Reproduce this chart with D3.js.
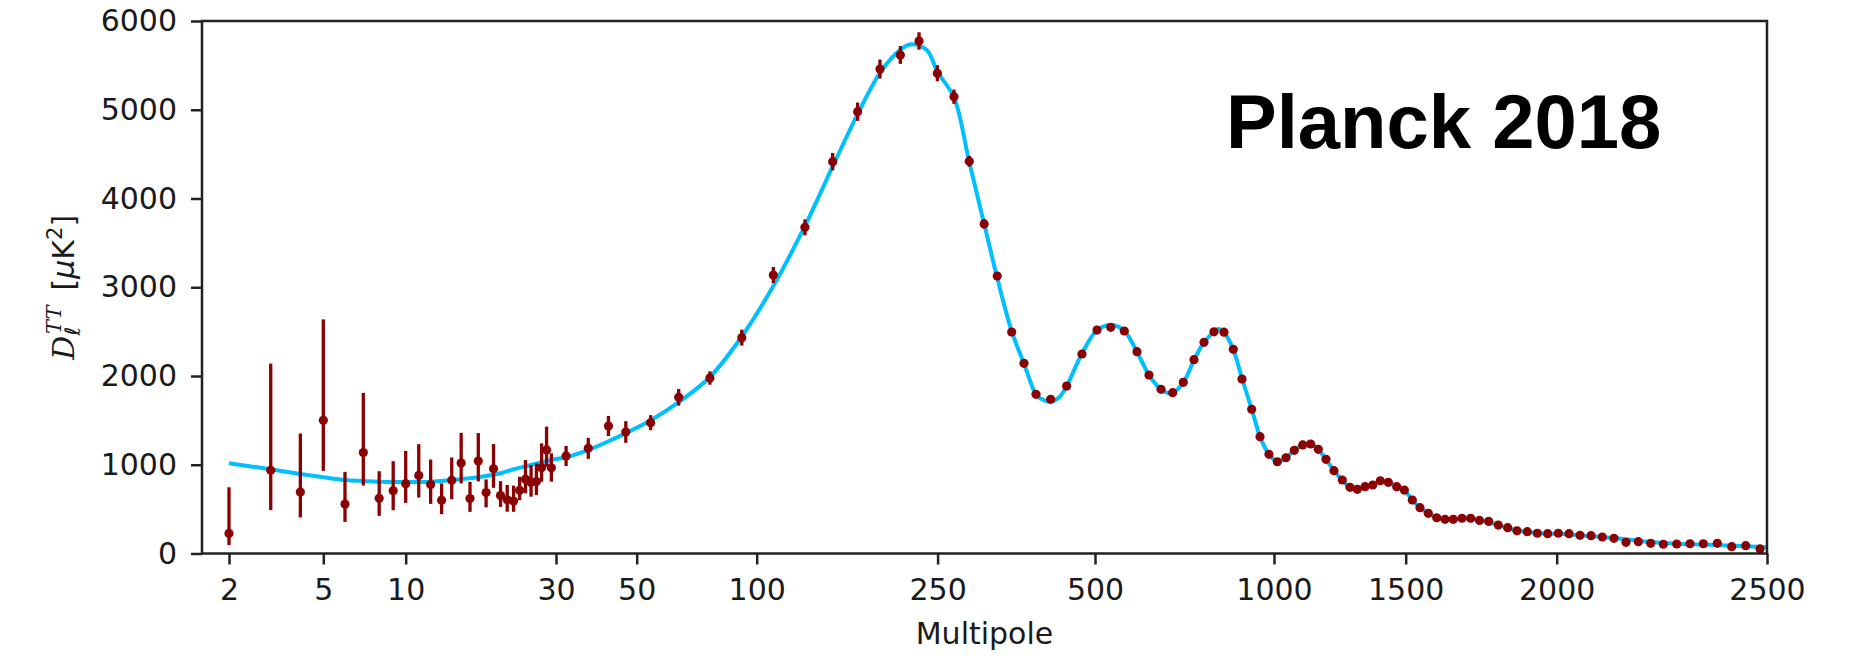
<!DOCTYPE html>
<meta charset="utf-8">
<style>
  body { margin: 0; background: #fff; }
  .tick text { font-family: "DejaVu Sans", sans-serif; font-size: 30px; fill: #1a1a1a; }
  .tick line { stroke: #222; stroke-width: 2.5; }
  .axisLabel { font-family: "DejaVu Sans", sans-serif; font-size: 30px; fill: #1a1a1a; }
  .title { font-family: "Liberation Sans", Arial, sans-serif; font-size: 76px; font-weight: bold; fill: #000; }
</style>
<body>
<script src="https://d3js.org/d3.v7.min.js"></script>
<script>

  // ---- data ----
  // unbinned low multipoles (l = 2..29), value plus lower/upper error bounds
  var lowL = [2, 3, 4, 5, 6, 7, 8, 9, 10, 11, 12, 13, 14, 15, 16, 17, 18, 19, 20, 21, 22, 23, 24, 25, 26, 27, 28, 29];
  var lowD = [226, 937, 693, 1501, 558, 1138, 622, 707, 787, 880, 777, 601, 824, 1019, 619, 1042, 687, 954, 653, 605, 591, 712, 837, 801, 810, 966, 1167, 966];
  var lowLo = [94, 490, 406, 931, 356, 766, 424, 488, 570, 631, 559, 443, 612, 790, 469, 812, 520, 740, 525, 471, 470, 600, 678, 640, 659, 809, 978, 809];
  var lowHi = [746, 2140, 1352, 2638, 920, 1810, 927, 1040, 1156, 1232, 1059, 789, 1082, 1360, 807, 1357, 835, 1233, 815, 772, 765, 865, 1054, 997, 1016, 1241, 1429, 1129];

  // binned high multipoles
  var binL = [32.5, 38, 43, 47.3, 55.8, 67.5, 80.5, 93.8, 113.8, 140,
    163, 183.7, 202.2, 219.1, 234.6, 249.8, 276, 300.3, 324, 344.7,
    367.7, 387.2, 406.3, 429.6, 455, 479.3, 505.6, 543.9, 581.8, 617.3,
    650.8, 684.4, 717, 746.6, 776.5, 804.5, 832.4, 860.3, 886.3, 910.6,
    937.7, 960.9, 986, 1012.5, 1045.6, 1077.1, 1109, 1139.3, 1168.2, 1197.4,
    1227.8, 1259.3, 1288.5, 1316.3, 1345.5, 1374.8, 1403.6, 1434, 1465.9, 1494.8,
    1521.9, 1547.4, 1574.8, 1602.7, 1630.1, 1657.6, 1686.4, 1715.2, 1744.4, 1774.8,
    1806.6, 1837.7, 1868.5, 1902.6, 1935.8, 1970.2, 2003.8, 2029.2, 2055.4, 2081.6,
    2108.4, 2136.2, 2164.8, 2194, 2223.5, 2253.5, 2285.3, 2316.9, 2348.6, 2381.8,
    2416.1, 2449.4, 2483.4];
  var binD = [1099, 1185, 1437, 1369, 1474, 1760, 1977, 2432, 3138, 3675,
    4415, 4978, 5459, 5617, 5775, 5411, 5147, 4420, 3713, 3127,
    2496, 2143, 1794, 1738, 1887, 2248, 2518, 2549, 2507, 2274,
    2011, 1850, 1812, 1929, 2184, 2380, 2498, 2494, 2301, 1966,
    1625, 1316, 1118, 1034, 1079, 1163, 1223, 1234, 1174, 1061,
    933, 828, 746, 723, 753, 772, 820, 802, 753, 715,
    603, 516, 453, 403, 385, 385, 397, 397, 373, 362,
    320, 291, 256, 246, 228, 223, 228, 223, 205, 201,
    186, 171, 126, 133, 115, 104, 107, 110, 110, 115,
    77, 88, 51];
  var binErr = [113, 118, 113, 122, 85, 94, 75, 90, 90, 90,
    98, 103, 107, 100, 98, 90, 80, 60, 50, 45,
    40, 40, 35, 35, 35, 35, 35, 35, 35, 35,
    30, 30, 30, 30, 30, 30, 30, 30, 30, 30,
    30, 30, 30, 30, 30, 30, 30, 30, 30, 30,
    30, 30, 30, 30, 30, 30, 30, 30, 30, 30,
    30, 30, 30, 30, 30, 30, 30, 30, 30, 30,
    30, 30, 30, 30, 30, 30, 30, 30, 30, 30,
    30, 30, 30, 30, 30, 30, 30, 30, 30, 30,
    30, 30, 30];

  // best-fit model curve
  var modelL = [2, 3, 4, 5, 6, 7, 8, 10, 12, 14, 16, 18, 20, 22, 25, 29, 32.5, 37.9, 42.9, 55.9,
    67.5, 80.3, 93.5, 113.9, 140.2, 163.1, 183.5, 202.5, 219, 228, 241, 250, 276, 300, 324, 344, 368, 387, 406, 413, 429,
    444, 455, 479, 506, 547, 582, 617, 651, 684, 700, 717, 747, 777, 805, 845, 860, 886, 911, 938, 961,
    986, 1015, 1046, 1077, 1109, 1139, 1168, 1197, 1228, 1259, 1288, 1316, 1345, 1375, 1404, 1434, 1466, 1495, 1522, 1547,
    1575, 1603, 1630, 1658, 1686, 1715, 1744, 1775, 1807, 1838, 1869, 1903, 1936, 1970, 2004, 2055, 2108, 2165, 2224, 2285,
    2349, 2416, 2500];
  var modelD = [1016, 949, 896, 859, 828, 817, 809, 806, 809, 828, 847, 873, 904, 949, 997, 1054, 1084, 1165, 1262, 1502,
    1705, 1983, 2434, 3017, 3696, 4364, 4946, 5421, 5675, 5737, 5673, 5425, 5140, 4420, 3713, 3127, 2496, 2143, 1794, 1749, 1711,
    1767, 1887, 2248, 2518, 2575, 2507, 2274, 2011, 1850, 1812, 1812, 1929, 2184, 2380, 2530, 2494, 2301, 1966, 1625, 1316,
    1118, 1030, 1079, 1163, 1223, 1240, 1174, 1061, 933, 828, 746, 723, 750, 775, 810, 802, 753, 712, 603, 516,
    453, 403, 385, 385, 395, 395, 373, 355, 320, 290, 258, 244, 230, 222, 222, 205, 186, 160, 130, 110,
    100, 88, 70];

  // axis ticks
  var xTicks = [2, 5, 10, 30, 50, 100, 250, 500, 1000, 1500, 2000, 2500];
  var yTicks = [0, 1000, 2000, 3000, 4000, 5000, 6000];

  // where each x tick sits along the axis (fraction of the width) - the axis is not uniform
  var xBreaks = [0.01725, 0.07751, 0.13016, 0.2262, 0.27776, 0.35444, 0.47003, 0.57061, 0.68498, 0.76914, 0.86562, 1.0];

  // ---- layout ----
  var margin = { top: 21, right: 102, bottom: 107.5, left: 202 },
    width = 1869 - margin.left - margin.right,
    height = 661 - margin.top - margin.bottom;

  var svg = d3.select("body").append("svg")
    .attr("width", 1869)
    .attr("height", 661);

  svg.append("rect").attr("width", 1869).attr("height", 661).attr("fill", "#fff");

  var g = svg.append("g")
    .attr("transform", "translate(" + margin.left + "," + margin.top + ")");

  // log below l=30, linear above; the piecewise scale does the rest
  function tf(l) { return l <= 30 ? Math.log(l) : Math.log(30) + (l - 30) / 30; }

  var xs = d3.scaleLinear()
    .domain(xTicks.map(tf))
    .range(xBreaks.map(function (f) { return f * width; }));
  function x(l) { return xs(tf(l)); }

  var y = d3.scaleLinear().domain([0, 6000]).range([height, 0]);

  // ---- axes ----
  var xAxis = g.append("g")
    .attr("transform", "translate(0," + height + ")")
    .call(d3.axisBottom(xs)
      .tickValues(xTicks.map(tf))
      .tickFormat(function (v, i) { return xTicks[i]; })
      .tickSize(11).tickPadding(14));
  xAxis.select(".domain").remove();

  var yAxis = g.append("g")
    .call(d3.axisLeft(y).tickValues(yTicks).tickFormat(d3.format("d")).tickSize(11).tickPadding(14));
  yAxis.select(".domain").remove();

  // ---- model curve ----
  var model = modelL.map(function (l, i) { return { l: l, d: modelD[i] }; });
  var line = d3.line()
    .x(function (d) { return x(d.l); })
    .y(function (d) { return y(d.d); })
    .curve(d3.curveCatmullRom.alpha(0.5));

  g.append("path")
    .datum(model)
    .attr("d", line)
    .attr("fill", "none")
    .attr("stroke", "#00bfff")
    .attr("stroke-width", 4);

  // ---- data points with error bars ----
  var pts = lowL.map(function (l, i) { return { l: l, d: lowD[i], lo: lowLo[i], hi: lowHi[i] }; })
    .concat(binL.map(function (l, i) { return { l: l, d: binD[i], lo: binD[i] - binErr[i], hi: binD[i] + binErr[i] }; }));

  g.selectAll(".err")
    .data(pts)
    .enter().append("line")
    .attr("class", "err")
    .attr("x1", function (d) { return x(d.l); })
    .attr("x2", function (d) { return x(d.l); })
    .attr("y1", function (d) { return y(d.lo); })
    .attr("y2", function (d) { return y(d.hi); })
    .attr("stroke", "#8b0000")
    .attr("stroke-width", 3.3);

  g.selectAll(".pt")
    .data(pts)
    .enter().append("circle")
    .attr("class", "pt")
    .attr("cx", function (d) { return x(d.l); })
    .attr("cy", function (d) { return y(d.d); })
    .attr("r", 4.6)
    .attr("fill", "#8b0000");

  // frame
  g.append("rect")
    .attr("width", width)
    .attr("height", height)
    .attr("fill", "none")
    .attr("stroke", "#222")
    .attr("stroke-width", 2.5);

  // ---- labels ----
  g.append("text")
    .attr("class", "axisLabel")
    .attr("x", width / 2)
    .attr("y", height + 90)
    .attr("text-anchor", "middle")
    .text("Multipole");

  var yl = svg.append("text")
    .attr("class", "axisLabel")
    .attr("text-anchor", "middle")
    .attr("transform", "translate(74," + (margin.top + height / 2) + ") rotate(-90)");
  yl.append("tspan").attr("font-family", "DejaVu Serif").attr("font-style", "italic").text("D");
  yl.append("tspan").attr("font-size", "21px").attr("font-style", "italic").attr("dy", 6).text("ℓ");
  yl.append("tspan").attr("font-size", "21px").attr("font-family", "DejaVu Serif").attr("font-style", "italic").attr("dx", -7).attr("dy", -19).text("TT");
  yl.append("tspan").attr("dy", 13).text("\u2002[");
  yl.append("tspan").attr("font-style", "italic").text("μ");
  yl.append("tspan").text("K");
  yl.append("tspan").attr("font-size", "21px").attr("dy", -12).text("2");
  yl.append("tspan").attr("dy", 12).text("]");

  g.append("text")
    .attr("class", "title")
    .attr("x", 1226 - margin.left)
    .attr("y", 148 - margin.top)
    .text("Planck 2018");

</script>
</body>
